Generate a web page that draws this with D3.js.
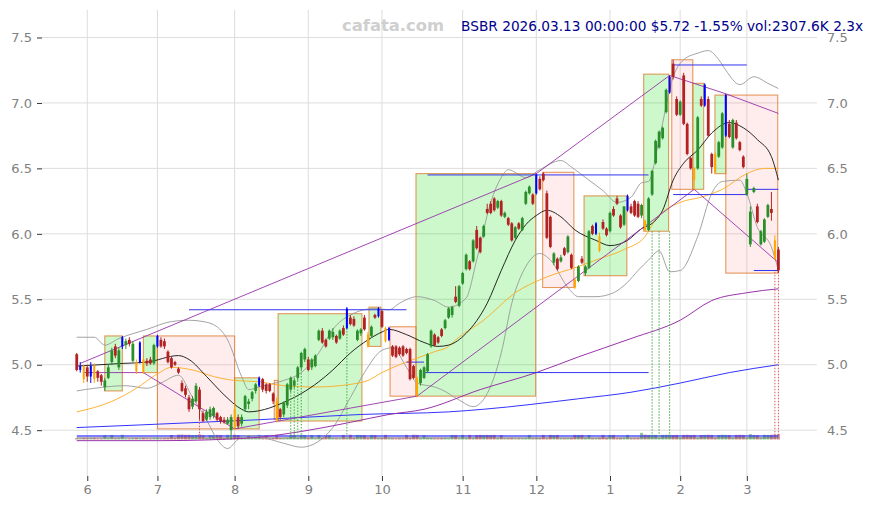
<!DOCTYPE html>
<html><head><meta charset="utf-8">
<script src="https://cdn.jsdelivr.net/npm/d3@7"></script>
<style>body{margin:0;background:#fff}svg{display:block}text{font-family:"DejaVu Sans",sans-serif}</style>
</head><body><svg id="c" width="873" height="505"></svg>
<script>
// ---------- DATA ----------
const ohlc = [
[5.08,5.09,4.95,4.96],[4.96,5.02,4.94,4.99],[4.99,5.00,4.86,4.89],[4.98,5.00,4.87,4.91],[4.91,5.02,4.86,4.99],
[4.99,5.01,4.86,4.89],[4.95,4.96,4.87,4.90],[4.92,4.93,4.84,4.87],[4.83,4.90,4.80,4.88],[4.90,5.00,4.89,4.98],
[5.02,5.13,5.00,5.11],[5.14,5.16,5.05,5.07],[4.98,5.13,4.96,5.11],[5.14,5.22,5.12,5.21],[5.15,5.20,5.12,5.18],
[5.19,5.21,5.14,5.16],[5.03,5.18,5.02,5.16],[5.02,5.04,4.93,4.95],[5.02,5.18,5.01,5.17],[5.04,5.06,4.93,4.94],
[5.03,5.05,4.99,5.01],[5.04,5.06,5.00,5.01],[5.01,5.16,5.00,5.15],[5.14,5.23,5.13,5.22],[5.19,5.21,5.13,5.14],
[5.18,5.20,5.12,5.14],[5.10,5.11,5.01,5.02],[5.05,5.06,4.97,4.98],[5.02,5.03,4.99,5.00],[4.97,4.98,4.93,4.94],
[4.86,4.88,4.79,4.80],[4.82,4.84,4.75,4.77],[4.75,4.77,4.64,4.66],[4.68,4.76,4.66,4.74],[4.72,4.86,4.71,4.84],
[4.81,4.83,4.58,4.66],[4.63,4.65,4.56,4.57],[4.58,4.66,4.57,4.64],[4.60,4.68,4.58,4.66],[4.61,4.68,4.59,4.67],
[4.63,4.64,4.57,4.58],[4.60,4.61,4.55,4.57],[4.58,4.60,4.55,4.56],[4.55,4.60,4.54,4.58],[4.50,4.62,4.43,4.60],
[4.66,4.70,4.50,4.52],[4.60,4.62,4.51,4.53],[4.55,4.62,4.53,4.60],[4.66,4.77,4.64,4.76],[4.70,4.74,4.66,4.72],
[4.74,4.80,4.72,4.79],[4.80,4.86,4.78,4.85],[4.84,4.91,4.83,4.90],[4.89,4.90,4.79,4.81],[4.85,4.86,4.78,4.80],
[4.85,4.86,4.79,4.80],[4.78,4.79,4.70,4.72],[4.72,4.75,4.56,4.58],[4.66,4.67,4.58,4.60],[4.62,4.72,4.60,4.71],
[4.69,4.86,4.67,4.85],[4.81,4.91,4.79,4.90],[4.84,4.90,4.82,4.88],[4.90,4.99,4.88,4.98],[4.98,5.10,4.96,5.09],
[5.04,5.13,5.02,5.12],[5.04,5.06,4.95,4.96],[4.98,5.05,4.96,5.04],[4.99,5.08,4.98,5.07],[5.19,5.27,5.18,5.26],
[5.26,5.28,5.16,5.17],[5.19,5.20,5.13,5.14],[5.20,5.27,5.19,5.26],[5.21,5.28,5.19,5.25],[5.22,5.23,5.16,5.17],
[5.20,5.27,5.19,5.26],[5.28,5.30,5.22,5.23],[5.28,5.44,5.27,5.43],[5.36,5.38,5.30,5.31],[5.35,5.37,5.29,5.30],
[5.19,5.27,5.18,5.26],[5.24,5.28,5.22,5.27],[5.36,5.38,5.26,5.27],[5.23,5.25,5.13,5.14],[5.22,5.30,5.21,5.29],
[5.38,5.39,5.35,5.36],[5.37,5.44,5.36,5.43],[5.41,5.42,5.28,5.29],[5.28,5.29,5.17,5.18],[5.19,5.29,5.18,5.28],
[5.14,5.15,5.06,5.07],[5.14,5.15,5.05,5.06],[5.13,5.14,5.07,5.08],[5.14,5.15,5.06,5.07],[5.12,5.13,5.08,5.09],
[5.12,5.13,4.88,4.89],[4.99,5.00,4.89,4.90],[4.90,4.91,4.75,4.77],[4.86,4.97,4.84,4.96],[4.90,4.99,4.89,4.98],
[4.95,5.09,4.94,5.08],[5.14,5.27,5.13,5.26],[5.23,5.24,5.14,5.15],[5.21,5.22,5.16,5.17],[5.27,5.28,5.21,5.22],
[5.28,5.35,5.27,5.34],[5.36,5.44,5.35,5.43],[5.38,5.45,5.36,5.44],[5.52,5.60,5.47,5.48],[5.45,5.61,5.44,5.60],
[5.62,5.71,5.61,5.70],[5.73,5.85,5.72,5.84],[5.79,5.80,5.72,5.73],[5.79,5.96,5.78,5.95],[6.03,6.06,5.88,5.89],
[5.97,5.98,5.85,5.86],[5.98,6.07,5.97,6.06],[6.19,6.23,6.15,6.16],[6.23,6.25,6.15,6.16],[6.27,6.28,6.17,6.18],
[6.20,6.26,6.19,6.25],[6.25,6.26,6.13,6.14],[6.13,6.17,6.12,6.16],[6.12,6.13,6.06,6.07],[6.08,6.09,5.94,5.95],
[5.97,6.06,5.96,6.05],[6.08,6.09,6.03,6.04],[6.03,6.13,6.02,6.12],[6.23,6.33,6.22,6.32],[6.31,6.37,6.30,6.36],
[6.30,6.31,6.22,6.23],[6.31,6.46,6.30,6.45],[6.42,6.44,6.33,6.34],[6.46,6.47,6.40,6.41],[6.31,6.33,5.96,5.97],
[6.13,6.14,5.89,5.90],[5.78,5.86,5.76,5.85],[5.81,5.82,5.72,5.73],[5.79,5.84,5.78,5.82],[5.89,5.90,5.83,5.84],
[5.86,5.99,5.85,5.98],[5.84,5.85,5.73,5.74],[5.65,5.66,5.58,5.59],[5.64,5.76,5.63,5.75],[5.81,5.83,5.77,5.78],
[5.70,5.76,5.68,5.75],[5.74,6.03,5.73,6.02],[6.06,6.07,5.99,6.00],[6.00,6.09,5.99,6.08],[5.98,6.01,5.86,5.87],
[6.09,6.11,6.03,6.04],[6.04,6.05,5.98,5.99],[6.02,6.17,6.01,6.16],[6.19,6.21,6.13,6.14],[6.27,6.29,6.22,6.23],
[6.14,6.15,6.04,6.05],[6.07,6.21,6.06,6.21],[6.18,6.30,6.17,6.29],[6.21,6.23,6.15,6.16],[6.25,6.26,6.13,6.14],
[6.23,6.25,6.12,6.13],[6.14,6.23,6.12,6.22],[6.10,6.11,6.02,6.03],[6.03,6.28,6.02,6.27],[6.30,6.49,6.29,6.48],
[6.54,6.72,6.53,6.71],[6.66,6.79,6.65,6.78],[6.73,6.82,6.72,6.81],[6.93,7.11,6.92,7.10],[7.08,7.21,7.07,7.20],
[7.30,7.33,7.18,7.20],[7.03,7.05,6.90,6.91],[6.91,7.02,6.90,7.01],[7.21,7.23,6.83,6.84],[6.84,6.85,6.60,6.61],
[6.58,6.59,6.49,6.50],[6.50,6.51,6.34,6.41],[6.50,6.90,6.49,6.89],[7.03,7.05,6.97,6.98],[6.98,7.15,6.97,7.14],
[7.03,7.05,6.74,6.75],[6.61,6.62,6.46,6.51],[6.61,6.62,6.46,6.47],[6.59,6.71,6.58,6.70],[6.66,6.93,6.65,6.92],
[6.75,7.07,6.74,7.06],[6.84,6.87,6.73,6.74],[6.66,6.88,6.65,6.87],[6.85,6.87,6.72,6.73],[6.70,6.71,6.63,6.64],
[6.59,6.60,6.50,6.51],[6.30,6.46,6.29,6.42],[5.92,6.21,5.90,6.17],[6.32,6.36,6.31,6.35],[6.21,6.23,6.08,6.09],
[5.92,6.03,5.91,6.02],[5.94,6.12,5.93,6.11],[6.13,6.23,6.12,6.22],[6.19,6.32,6.10,6.16],[5.95,5.99,5.80,5.81],
[5.88,5.90,5.70,5.72]
];
const blueIdx = [1,4,13,18,23,52,77,86,89,131,148,157,169,179,185];
const orangeIdx = [2,5,17,19,45,57,83,88,97,142,149,162,176,182,199];

const volumes = [600,500,650,550,600,700,450,500,1950,600,2000,550,700,2050,500,450,600,650,550,700,
500,450,600,700,500,550,650,1950,700,2100,2150,2000,2050,1900,2000,2200,1950,600,1950,1900,
2000,1950,650,2050,700,2100,1950,600,550,1900,500,600,2000,550,1900,500,650,2100,600,550,
700,2000,1950,700,2050,1900,600,1950,550,2000,650,1900,2000,600,550,500,2000,700,2050,650,
2000,1950,1900,700,2000,1950,600,650,2000,700,550,500,600,550,2000,650,2050,2000,600,1950,
700,650,500,550,600,650,550,2000,1950,600,2000,650,2000,700,1950,2000,1950,2000,1950,2000,
650,1950,550,600,700,500,600,550,650,2000,600,700,650,2000,600,2000,1950,2000,600,550,
650,700,2000,1950,2000,700,1950,600,650,700,2000,650,1950,2000,600,650,700,2000,600,550,
650,2900,2100,2000,2050,2000,700,2000,2050,2100,1950,2000,700,2000,2050,1950,2000,650,1950,2000,
2050,2000,700,1950,2050,2000,1950,700,2000,2050,2000,650,2350,2000,1950,700,2050,2000,2050,2150,2308];

// indicator lines: [index, price]
const ma20 = [[0,4.99],[13,5.01],[20,5.02],[29,5.07],[32,5.04],[37,4.91],[42,4.77],[47,4.66],[49,4.64],[55,4.67],[57,4.69],[64,4.78],[69,4.87],[73,4.96],[78,5.09],[83,5.19],[87,5.25],[89,5.27],[94,5.23],[99,5.17],[103,5.14],[106,5.15],[111,5.24],[117,5.47],[121,5.72],[125,5.95],[128,6.07],[131,6.14],[134,6.18],[138,6.13],[142,6.03],[148,5.95],[152,5.91],[157,5.95],[161,6.04],[164,6.08],[167,6.18],[170,6.41],[173,6.54],[177,6.64],[181,6.77],[186,6.85],[190,6.81],[194,6.72],[198,6.59],[200,6.41]];
const ma50 = [[0,4.64],[10,4.72],[17,4.82],[23,4.93],[27,4.98],[33,4.96],[39,4.91],[45,4.88],[52,4.87],[59,4.84],[68,4.83],[78,4.85],[83,4.88],[87,4.94],[92,5.00],[97,5.05],[102,5.10],[106,5.14],[108,5.19],[116,5.34],[125,5.55],[133,5.66],[143,5.75],[148,5.80],[156,5.88],[162,5.98],[165,6.11],[172,6.24],[178,6.28],[184,6.34],[191,6.46],[196,6.50],[200,6.50]];
const bbUpper = [[0,5.21],[5,5.21],[8,5.15],[12,5.20],[20,5.27],[27,5.33],[32,5.34],[36,5.33],[40,5.29],[43,5.19],[47,4.91],[49,4.81],[52,4.83],[59,4.88],[64,4.94],[69,5.09],[73,5.27],[78,5.38],[85,5.43],[89,5.42],[92,5.47],[97,5.52],[102,5.49],[106,5.44],[111,5.51],[114,5.80],[118,6.24],[121,6.43],[123,6.49],[128,6.43],[132,6.49],[138,6.56],[141,6.51],[146,6.41],[150,6.33],[154,6.24],[158,6.28],[161,6.39],[163,6.40],[166,6.72],[170,7.20],[173,7.33],[177,7.38],[180,7.40],[183,7.33],[185,7.25],[189,7.14],[193,7.20],[197,7.15],[200,7.11]];
const bbLower = [[0,4.80],[5,4.82],[14,4.84],[20,4.82],[24,4.86],[29,4.92],[33,4.75],[37,4.58],[40,4.43],[43,4.36],[46,4.43],[49,4.46],[52,4.45],[59,4.40],[64,4.37],[73,4.52],[78,4.75],[82,4.94],[87,5.11],[90,5.13],[94,4.98],[97,4.86],[102,4.83],[104,4.81],[109,4.73],[113,4.68],[117,4.78],[121,5.09],[124,5.47],[128,5.75],[132,5.85],[135,5.80],[140,5.59],[143,5.52],[148,5.52],[153,5.55],[157,5.63],[160,5.72],[163,5.80],[166,5.87],[169,5.71],[172,5.72],[177,5.98],[181,6.31],[184,6.40],[189,6.41],[191,6.31],[194,6.05],[198,5.90],[200,5.72]];
const maLongPurple = [[0,4.42],[24,4.42],[49,4.44],[64,4.49],[78,4.56],[89,4.62],[99,4.66],[115,4.81],[131,4.94],[143,5.06],[158,5.20],[172,5.34],[181,5.49],[191,5.55],[200,5.58]];
const maLongBlue = [[0,4.52],[18,4.54],[35,4.56],[52,4.58],[81,4.62],[106,4.64],[116,4.66],[143,4.74],[158,4.79],[172,4.86],[186,4.94],[200,5.00]];

// trend lines (pivot points) [index, price]
const highTrend = [[1,5.01],[131,6.46],[169,7.21],[185,7.07],[200,6.92]];
const lowTrend = [[2,4.94],[19,4.94],[45,4.51],[97,4.76],[176,6.34],[200,5.78]];

// horizontal levels: [fromIndex, toIndex, price]
const levels = [[32,94,5.42],[94,99,5.02],[99,163,4.94],[100,163,6.45],[170,191,7.29],[170,191,6.30],[191,200,6.34],[193,200,5.72]];

// zones: [fromIndex, toIndex, low, high, kind]
const zones = [[8,13,4.80,5.22,'up'],[19,23,4.94,5.22,'up'],[23,45,4.51,5.22,'down'],[45,52,4.51,4.90,'up'],
[56.3,57.4,4.58,4.88,'down'],[57.4,81.3,4.57,5.39,'up'],[83.3,86.7,5.14,5.44,'up'],[89.3,96.7,4.76,5.29,'down'],
[96.7,130.8,4.76,6.46,'up'],[132.8,141.7,5.59,6.47,'down'],[144.6,156.8,5.68,6.29,'up'],[161.6,168.7,6.02,7.22,'up'],
[169.6,175.6,6.34,7.33,'down'],[175.6,178.7,6.34,7.15,'up'],[181.9,185,6.46,7.06,'up'],[185,199.8,5.70,7.06,'down']];

// dotted markers: [index, fromPrice, kind]
const markers = [[35,4.58,'down'],[61,4.79,'up'],[62,4.82,'up'],[63,4.88,'up'],[64,4.96,'up'],[77,5.28,'up'],
[164,6.02,'up'],[166,6.02,'up'],[169,6.02,'up'],[199,5.71,'down'],[200,5.71,'down']];

const yTicks = [4.5,5.0,5.5,6.0,6.5,7.0,7.5];
const monthIdx = [3,23,45,66,87,110,131,152,172,191];
const monthLabels = ["6","7","8","9","10","11","12","1","2","3"];
const volumeBaseLevels = [4.456, 4.441];
const title = "BSBR 2026.03.13 00:00:00 $5.72 -1.55% vol:2307.6K 2.3x";
const watermark = "cafata.com";

// ---------- DRAW ----------
const svg = d3.select('#c');
const x = d3.scaleLinear().domain([-9.9, 211]).range([42, 817]);
const y = d3.scaleLinear().domain([4.15, 7.71]).range([476, 10]);
const vh = d3.scaleLinear().domain([0, 3000]).range([0, 6.9]);
const volBase = 439.5;

// grid
svg.append('g').selectAll('line').data(yTicks).join('line')
  .attr('x1', 42).attr('x2', 817).attr('y1', d => y(d)).attr('y2', d => y(d))
  .attr('stroke', '#dddddd').attr('stroke-width', 1);
svg.append('g').selectAll('line').data(monthIdx).join('line')
  .attr('x1', d => x(d)).attr('x2', d => x(d)).attr('y1', 10).attr('y2', 476)
  .attr('stroke', '#dddddd').attr('stroke-width', 1);

// zones
svg.append('g').selectAll('rect').data(zones).join('rect')
  .attr('x', d => x(d[0])).attr('width', d => x(d[1]) - x(d[0]))
  .attr('y', d => y(d[3])).attr('height', d => y(d[2]) - y(d[3]))
  .attr('fill', d => d[4] === 'up' ? 'rgba(0,220,0,0.2)' : 'rgba(255,60,60,0.09)')
  .attr('stroke', 'rgba(220,120,40,0.75)').attr('stroke-width', 1.1);

// volume bars
const isUp = d => d[3] >= d[0];
svg.append('g').selectAll('rect').data(volumes).join('rect')
  .attr('x', (d, i) => x(i) - 1.5).attr('width', 3)
  .attr('y', d => volBase - vh(d)).attr('height', d => vh(d))
  .attr('fill', (d, i) => isUp(ohlc[i]) ? 'rgba(34,139,34,0.5)' : 'rgba(178,34,34,0.5)');

// base lines near volume
svg.append('line').attr('x1', x(0)).attr('x2', x(200)).attr('y1', y(volumeBaseLevels[0])).attr('y2', y(volumeBaseLevels[0]))
  .attr('stroke', 'rgba(40,40,255,0.8)').attr('stroke-width', 1.6);
svg.append('line').attr('x1', x(0)).attr('x2', x(200)).attr('y1', y(volumeBaseLevels[1])).attr('y2', y(volumeBaseLevels[1]))
  .attr('stroke', 'rgba(90,90,90,0.8)').attr('stroke-width', 1);

const line = d3.line().x(d => x(d[0])).y(d => y(d[1])).curve(d3.curveMonotoneX);
const straight = d3.line().x(d => x(d[0])).y(d => y(d[1]));
function path(data, color, w, gen) {
  svg.append('path').datum(data).attr('d', gen || line).attr('fill', 'none')
    .attr('stroke', color).attr('stroke-width', w);
}
path(bbUpper, '#999999', 0.9);
path(bbLower, '#999999', 0.9);
path(maLongBlue, '#3333ff', 1);
path(maLongPurple, '#9933aa', 1);
path(ma50, '#ffaa22', 0.9);
path(ma20, '#111111', 0.9);
path(highTrend, '#9933aa', 0.9, straight);
path(lowTrend, '#9933aa', 0.9, straight);

// levels
svg.append('g').selectAll('line').data(levels).join('line')
  .attr('x1', d => x(d[0])).attr('x2', d => x(d[1])).attr('y1', d => y(d[2])).attr('y2', d => y(d[2]))
  .attr('stroke', '#3333ee').attr('stroke-width', 1);

// dotted markers
svg.append('g').selectAll('line').data(markers).join('line')
  .attr('x1', d => x(d[0])).attr('x2', d => x(d[0])).attr('y1', d => y(d[1])).attr('y2', y(4.45))
  .attr('stroke', d => d[2] === 'up' ? '#44aa44' : '#dd5555').attr('stroke-width', 1)
  .attr('stroke-dasharray', '1.5,1.5');

// candles
const colorOf = (d, i) => blueIdx.includes(i) ? '#0000ff' : orangeIdx.includes(i) ? '#ffa500' : (isUp(d) ? '#2a8f2a' : '#b22222');
const cg = svg.append('g');
cg.selectAll('line').data(ohlc).join('line')
  .attr('x1', (d, i) => x(i)).attr('x2', (d, i) => x(i))
  .attr('y1', d => y(d[1])).attr('y2', d => y(d[2]))
  .attr('stroke', colorOf).attr('stroke-width', 1);
cg.selectAll('rect').data(ohlc).join('rect')
  .attr('x', (d, i) => x(i) - ((blueIdx.includes(i) || orangeIdx.includes(i)) ? 1 : 1.4))
  .attr('width', (d, i) => (blueIdx.includes(i) || orangeIdx.includes(i)) ? 2 : 2.8)
  .attr('y', d => y(Math.max(d[0], d[3])))
  .attr('height', d => Math.max(1, Math.abs(y(d[0]) - y(d[3]))))
  .attr('fill', colorOf);

// axes
const fmt = d3.format('.1f');
const gl = svg.append('g').attr('transform', 'translate(42,0)')
  .call(d3.axisLeft(y).tickValues(yTicks).tickFormat(fmt).tickSize(5).tickPadding(5));
const gr = svg.append('g').attr('transform', 'translate(817,0)')
  .call(d3.axisRight(y).tickValues(yTicks).tickFormat(fmt).tickSize(0).tickPadding(10));
const gb = svg.append('g').attr('transform', 'translate(0,476)')
  .call(d3.axisBottom(x).tickValues(monthIdx).tickFormat((d, i) => monthLabels[i]).tickSize(5).tickPadding(4));
[gl, gr, gb].forEach(g => {
  g.select('.domain').remove();
  g.selectAll('text').attr('fill', '#808080').style('font-size', '13px').style('font-family', '"DejaVu Sans",sans-serif');
  g.selectAll('line').attr('stroke', '#333');
});

// texts
svg.append('text').attr('x', 342).attr('y', 31).text(watermark)
  .attr('fill', '#cfcfcf').style('font-size', '16.4px').style('font-weight', 'bold');
svg.append('text').attr('x', 863).attr('y', 31).attr('text-anchor', 'end').text(title)
  .attr('fill', '#00008b').style('font-size', '13.7px');
</script></body></html>
